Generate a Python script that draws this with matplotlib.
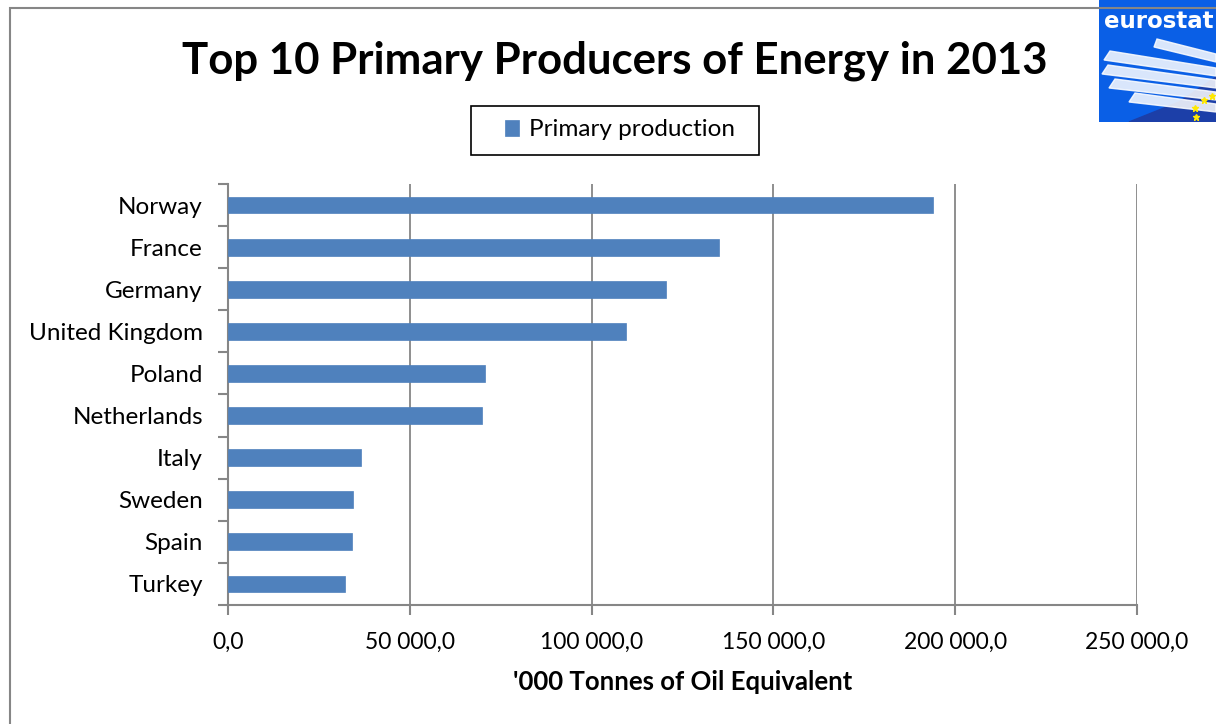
import matplotlib
matplotlib.use("Agg")
import matplotlib.pyplot as plt
from matplotlib.patches import Rectangle, Polygon
from matplotlib.ticker import FuncFormatter, MultipleLocator, FixedLocator
import numpy as np

countries = ["Norway", "France", "Germany", "United Kingdom", "Poland",
             "Netherlands", "Italy", "Sweden", "Spain", "Turkey"]
production = [193900, 135000, 120500, 109500, 70600, 69800, 36700, 34500, 34200, 32300]
series_name = "Primary production"
title = "Top 10 Primary Producers of Energy in 2013"
xlabel = "'000 Tonnes of Oil Equivalent"

plt.rcParams['font.family'] = ['Lato', 'DejaVu Sans']

W, H = 1216, 724
fig = plt.figure(figsize=(W / 100, H / 100), dpi=100)
ax = fig.add_axes([228 / W, 1 - 605 / H, (1137 - 228) / W, (605 - 184) / H])

n = len(countries)
ypos = np.arange(n)[::-1]
bars = ax.barh(ypos, production, height=0.4, color="#4F81BD", label=series_name,
               edgecolor="#4F81BD", linewidth=0.5, zorder=3)

ax.set_xlim(0, 250000)
ax.set_ylim(-0.5, n - 0.5)
ax.xaxis.set_major_locator(MultipleLocator(50000))
ax.xaxis.set_major_formatter(FuncFormatter(lambda v, p: f"{v:,.1f}".replace(",", " ").replace(".", ",")))
ax.set_yticks(ypos)
ax.set_yticklabels(countries)
ax.yaxis.set_minor_locator(FixedLocator(np.arange(-0.5, n, 1.0)))
ax.tick_params(axis='y', which='major', length=0, pad=18, labelsize=17.5)
ax.tick_params(axis='y', which='minor', length=7, width=1.5, color="#868686", direction='out')
ax.tick_params(axis='x', which='major', length=7, width=1.5, color="#868686", labelsize=16.5, pad=12)
ax.grid(axis='x', color="#868686", linewidth=1.3, zorder=0)
for s in ['top', 'right']:
    ax.spines[s].set_visible(False)
for s in ['left', 'bottom']:
    ax.spines[s].set_color("#868686")
    ax.spines[s].set_linewidth(1.5)
ax.set_xlabel(xlabel, fontsize=18.5, fontweight='bold', labelpad=13)

fig.text(615 / W, 1 - 61 / H, title, ha='center', va='center', fontsize=31.5, fontweight='bold')

leg = fig.legend(handles=[bars], labels=[series_name], loc='center',
                 bbox_to_anchor=(620 / W, 1 - 130 / H), frameon=False,
                 fontsize=17.5, handlelength=0.6, handleheight=0.6, handletextpad=0.4,
                 borderpad=0, borderaxespad=0)
fig.patches.append(Rectangle((471 / W, 1 - 155 / H), (759 - 471) / W, (155 - 106) / H,
                             transform=fig.transFigure, fill=False,
                             edgecolor="black", linewidth=1.2))

# chart border
fig.patches.append(Rectangle((9.5 / W, -0.05), (W + 20) / W, 1 - 7.5 / H + 0.05,
                             transform=fig.transFigure, fill=False,
                             edgecolor="#868686", linewidth=1.5))

# eurostat logo (approximate)
lax = fig.add_axes([1099 / W, 1 - 122 / H, 117 / W, 122 / H])
lax.set_xlim(0, 117)
lax.set_ylim(0, 122)
lax.axis('off')
lax.add_patch(Rectangle((0, 0), 117, 122, color="#0a5fe6"))
lax.add_patch(Polygon([[30, 0], [117, 0], [117, 45], [80, 20]], closed=True, color="#1c3fa8"))
for i, (x0, y0) in enumerate([(5, 62), (3, 48), (10, 34), (30, 20)]):
    lax.add_patch(Polygon([[x0, y0], [x0 + 6, y0 + 9], [117, y0 - 8 + i * 2], [117, y0 - 16 + i * 2]],
                          closed=True, color="white", alpha=0.85))
lax.add_patch(Polygon([[55, 75], [58, 83], [117, 68], [117, 60]], closed=True, color="white", alpha=0.85))
lax.text(60, 101, "eurostat", color="white", fontsize=16.5, fontweight='bold',
         ha='center', va='center', family=['DejaVu Sans'])
for (sx, sy) in [(105, 22), (96, 14), (97, 5), (113, 26)]:
    lax.plot(sx, sy, marker='*', color="#ffe800", markersize=5)

fig.savefig("out.png", dpi=100)
